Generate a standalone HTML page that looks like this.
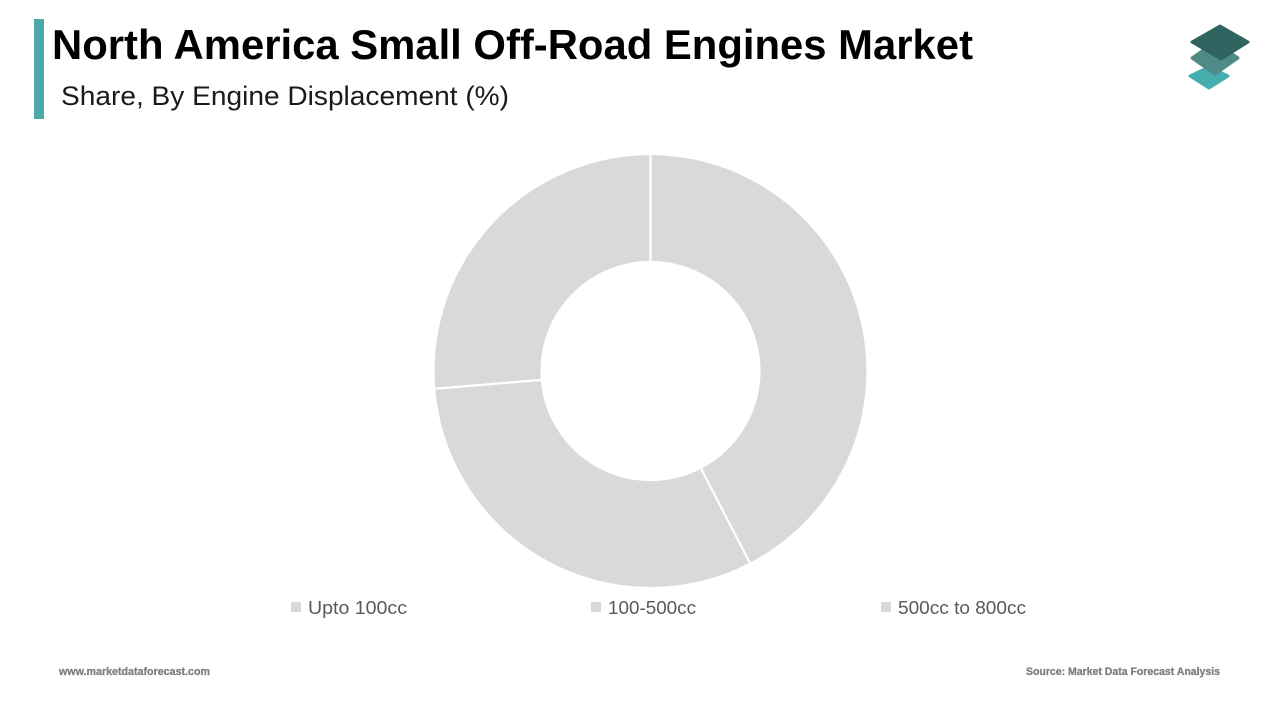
<!DOCTYPE html>
<html lang="en">
<head>
<meta charset="utf-8">
<title>North America Small Off-Road Engines Market</title>
<style>
  html, body { margin: 0; padding: 0; background: #fff; }
  #stage { display: block; width: 1280px; height: 720px; font-family: "Liberation Sans", sans-serif; }
</style>
</head>
<body>
<svg id="stage" xmlns="http://www.w3.org/2000/svg" width="1280" height="720" viewBox="0 0 1280 720">
  <rect x="0" y="0" width="1280" height="720" fill="#ffffff"/>
  <rect x="34" y="19" width="10" height="100" fill="#4aa9a9"/>
  <text x="52" y="59" font-size="42" font-weight="700" fill="#000000" textLength="921" lengthAdjust="spacingAndGlyphs">North America Small Off-Road Engines Market</text>
  <text x="61" y="105" font-size="27" fill="#1a1a1a" textLength="448" lengthAdjust="spacingAndGlyphs">Share, By Engine Displacement (%)</text>

  <g>
    <polygon points="1209,67 1228,76 1209,88 1190,76" fill="#45adad" stroke="#45adad" stroke-width="3" stroke-linejoin="round"/>
    <polygon points="1215,42 1238,58 1215,74 1192,58" fill="#4f8a87" stroke="#4f8a87" stroke-width="3" stroke-linejoin="round"/>
    <polygon points="1220,26 1248,42 1221,59 1192,42" fill="#2f6460" stroke="#2f6460" stroke-width="3" stroke-linejoin="round"/>
  </g>

  <g id="donut"></g>

  <g>
    <g>
      <rect x="291" y="602" width="10" height="10" fill="#d9d9d9"/>
      <text x="308" y="614" font-size="18" fill="#595959" textLength="99" lengthAdjust="spacingAndGlyphs">Upto 100cc</text>
    </g>
    <g>
      <rect x="591" y="602" width="10" height="10" fill="#d9d9d9"/>
      <text x="608" y="614" font-size="18" fill="#595959" textLength="88" lengthAdjust="spacingAndGlyphs">100-500cc</text>
    </g>
    <g>
      <rect x="881" y="602" width="10" height="10" fill="#d9d9d9"/>
      <text x="898" y="614" font-size="18" fill="#595959" textLength="128" lengthAdjust="spacingAndGlyphs">500cc to 800cc</text>
    </g>
  </g>

  <text x="59" y="675" font-size="11" font-weight="700" fill="#7f7f7f" stroke="#7f7f7f" stroke-width="0.3" textLength="151" lengthAdjust="spacingAndGlyphs">www.marketdataforecast.com</text>
  <text x="1026" y="675" font-size="11" font-weight="700" fill="#7f7f7f" stroke="#7f7f7f" stroke-width="0.3" textLength="194" lengthAdjust="spacingAndGlyphs">Source: Market Data Forecast Analysis</text>
</svg>
<script>
const categories = ["Upto 100cc", "100-500cc", "500cc to 800cc"];
const shareValues = [42.4, 31.3, 26.3];

const svgNS = "http://www.w3.org/2000/svg";
const donut = document.getElementById("donut");
const centerX = 650.5;
const centerY = 371;
const outerRadius = 217;
const innerRadius = 109;
const total = shareValues.reduce(function (a, b) { return a + b; }, 0);

function angleScale(v) {
  return (v / total) * Math.PI * 2;
}
function polar(r, a) {
  return [centerX + r * Math.sin(a), centerY - r * Math.cos(a)];
}
function arcPath(a0, a1) {
  const large = a1 - a0 > Math.PI ? 1 : 0;
  const p0 = polar(outerRadius, a0);
  const p1 = polar(outerRadius, a1);
  const p2 = polar(innerRadius, a1);
  const p3 = polar(innerRadius, a0);
  return "M" + p0[0] + " " + p0[1] +
    "A" + outerRadius + " " + outerRadius + " 0 " + large + " 1 " + p1[0] + " " + p1[1] +
    "L" + p2[0] + " " + p2[1] +
    "A" + innerRadius + " " + innerRadius + " 0 " + large + " 0 " + p3[0] + " " + p3[1] + "Z";
}

let cumulative = 0;
shareValues.forEach(function (value, i) {
  const start = angleScale(cumulative);
  cumulative += value;
  const end = angleScale(cumulative);
  const slice = document.createElementNS(svgNS, "path");
  slice.setAttribute("d", arcPath(start, end));
  slice.setAttribute("fill", "#d9d9d9");
  slice.setAttribute("stroke", "#ffffff");
  slice.setAttribute("stroke-width", "2.2");
  
  
  donut.appendChild(slice);
});
</script>
</body>
</html>
